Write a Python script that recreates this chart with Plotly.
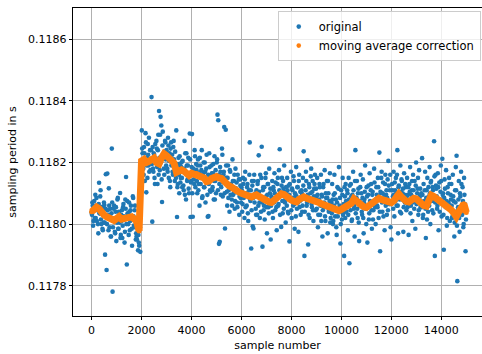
import plotly.graph_objects as go

# ---- data ----
# original samples, first set (sample numbers 0, 30, 60, ...)
sample_numbers_a = list(range(0, 15000, 30))
original_period_a = [
    0.118038, 0.118070, 0.117995, 0.118052, 0.118020, 0.118095, 0.118060, 0.118010, 0.118045, 0.117970, 0.118134, 0.118035, 0.118110, 0.118000, 0.118055, 0.117980, 0.118005, 0.118062, 0.117901, 0.118162,
    0.117851, 0.118164, 0.118030, 0.118116, 0.117990, 0.118050, 0.117960, 0.118245, 0.117781, 0.118015, 0.118060, 0.117975, 0.118040, 0.117945, 0.118005, 0.118085, 0.117985, 0.118030, 0.118101, 0.117965,
    0.118010, 0.117955, 0.118055, 0.118025, 0.117940, 0.118080, 0.118153, 0.117869, 0.118035, 0.118000, 0.118070, 0.117980, 0.118045, 0.118015, 0.117930, 0.118090, 0.118025, 0.117990, 0.118060, 0.117950,
    0.117960, 0.118020, 0.117915, 0.117940, 0.118010, 0.117910, 0.118160, 0.118304, 0.118230, 0.118180, 0.118250, 0.118140, 0.118295, 0.118103, 0.118215, 0.118260, 0.118190, 0.118170, 0.118240, 0.118205,
    0.118412, 0.118008, 0.118180, 0.118230, 0.118150, 0.118260, 0.118200, 0.118245, 0.118130, 0.118290, 0.118367, 0.118175, 0.118348, 0.118320, 0.118072, 0.118300, 0.118225, 0.118160, 0.118270, 0.118210,
    0.118240, 0.118180, 0.118280, 0.118150, 0.118230, 0.118120, 0.118265, 0.118200, 0.118170, 0.118250, 0.118210, 0.118140, 0.118185, 0.118304, 0.118023, 0.118130, 0.118215, 0.118100, 0.118190, 0.118150,
    0.118200, 0.118120, 0.118170, 0.118110, 0.118270, 0.118230, 0.118080, 0.118190, 0.118145, 0.118215, 0.118100, 0.118294, 0.118023, 0.118140, 0.118292, 0.118024, 0.118180, 0.118130, 0.118220, 0.118160,
    0.118175, 0.118100, 0.118210, 0.118130, 0.118060, 0.118190, 0.118150, 0.118240, 0.118090, 0.118165, 0.118120, 0.118200, 0.118070, 0.118180, 0.118140, 0.118024, 0.118026, 0.118230, 0.118110, 0.118155,
    0.118190, 0.118110, 0.118165, 0.118080, 0.118220, 0.118140, 0.118100, 0.118200, 0.118355, 0.118337, 0.117936, 0.117943, 0.118170, 0.118120, 0.118245, 0.118090, 0.118160, 0.118315, 0.117986, 0.118306,
    0.118150, 0.118060, 0.118190, 0.118110, 0.118040, 0.118170, 0.118130, 0.118080, 0.118210, 0.118095, 0.118140, 0.118050, 0.118180, 0.118115, 0.118070, 0.118160, 0.118100, 0.118030, 0.118145, 0.118085,
    0.118120, 0.118040, 0.118150, 0.118085, 0.118020, 0.118170, 0.118095, 0.118060, 0.118130, 0.118010, 0.118110, 0.118265, 0.118075, 0.117921, 0.118140, 0.117993, 0.117986, 0.118160, 0.118090, 0.118050,
    0.118110, 0.118030, 0.118140, 0.118223, 0.118070, 0.118160, 0.118040, 0.118251, 0.117927, 0.118120, 0.118060, 0.118015, 0.118150, 0.118090, 0.117970, 0.118130, 0.118055, 0.118180, 0.118100, 0.117950,
    0.118090, 0.118140, 0.118020, 0.118110, 0.118165, 0.118045, 0.118080, 0.117980, 0.118130, 0.118060, 0.118175, 0.118243, 0.118095, 0.117991, 0.118150, 0.118035, 0.118115, 0.118190, 0.118070, 0.118005,
    0.118100, 0.118150, 0.118040, 0.118125, 0.117944, 0.118080, 0.118170, 0.118020, 0.118110, 0.118060, 0.118140, 0.117985, 0.118095, 0.118185, 0.118050, 0.118120, 0.117975, 0.118160, 0.118075, 0.118030,
    0.118110, 0.118040, 0.118150, 0.118236, 0.117897, 0.118090, 0.118170, 0.118060, 0.118207, 0.117934, 0.118130, 0.118020, 0.118100, 0.118180, 0.118055, 0.118140, 0.118010, 0.118115, 0.118160, 0.118045,
    0.118090, 0.118150, 0.117990, 0.118070, 0.118130, 0.118030, 0.118160, 0.118095, 0.117960, 0.118120, 0.118055, 0.118175, 0.118010, 0.118085, 0.118140, 0.117970, 0.118100, 0.118045, 0.118165, 0.118020,
    0.118070, 0.118130, 0.118000, 0.118095, 0.118160, 0.118025, 0.118080, 0.117965, 0.118120, 0.118045, 0.118185, 0.118060, 0.117937, 0.118110, 0.118015, 0.118150, 0.118035, 0.117897, 0.118090, 0.118130,
    0.118040, 0.118110, 0.117980, 0.118150, 0.117873, 0.118075, 0.118130, 0.118010, 0.118095, 0.118170, 0.118050, 0.117960, 0.118240, 0.118085, 0.118140, 0.118020, 0.118115, 0.117945, 0.118070, 0.118160,
    0.118100, 0.118030, 0.118145, 0.117970, 0.118080, 0.118190, 0.118055, 0.118120, 0.117940, 0.118095, 0.118015, 0.118165, 0.118070, 0.118130, 0.117985, 0.118105, 0.118045, 0.118180, 0.118060, 0.118000,
    0.118120, 0.118060, 0.118150, 0.118020, 0.118232, 0.117912, 0.118100, 0.118170, 0.118040, 0.118135, 0.118075, 0.117980, 0.118160, 0.118095, 0.118030, 0.118145, 0.118205, 0.118065, 0.118110, 0.117990,
    0.117950, 0.118130, 0.118090, 0.118170, 0.118025, 0.118110, 0.118150, 0.118060, 0.118240, 0.117970, 0.118125, 0.118080, 0.118190, 0.118035, 0.118140, 0.118100, 0.117975, 0.118165, 0.118070, 0.118120,
    0.118045, 0.118150, 0.118095, 0.117965, 0.118130, 0.118185, 0.118060, 0.118110, 0.118010, 0.118160, 0.118085, 0.118140, 0.117985, 0.118200, 0.118070, 0.118115, 0.118030, 0.118175, 0.118090, 0.118055,
    0.118100, 0.118214, 0.118020, 0.118130, 0.118065, 0.118170, 0.117955, 0.118110, 0.118150, 0.118040, 0.118090, 0.118185, 0.118000, 0.118140, 0.118075, 0.118120, 0.118035, 0.118269, 0.117897, 0.118160,
    0.118115, 0.118050, 0.118165, 0.117980, 0.118135, 0.118080, 0.118190, 0.118025, 0.118212, 0.118100, 0.117917, 0.118145, 0.118060, 0.118175, 0.117995, 0.118120, 0.118070, 0.118150, 0.118010, 0.118095,
    0.118130, 0.118020, 0.118160, 0.118075, 0.117960, 0.118110, 0.118185, 0.118222, 0.117815, 0.118055, 0.118140, 0.117975, 0.118090, 0.118170, 0.118035, 0.118120, 0.117990, 0.118150, 0.118065, 0.117912,
]

# original samples, second set (sample numbers 15, 45, 75, ...)
sample_numbers_b = list(range(15, 15000, 30))
original_period_b = [
    0.118030, 0.118060, 0.118010, 0.118075, 0.118045, 0.118020, 0.118085, 0.118050, 0.118000, 0.118065, 0.118035, 0.118090, 0.118015, 0.118055, 0.117985, 0.118040, 0.118070, 0.118005, 0.118050, 0.118025,
    0.118000, 0.118045, 0.117980, 0.118060, 0.118025, 0.117960, 0.118035, 0.118070, 0.117990, 0.118050, 0.118010, 0.117970, 0.118055, 0.118020, 0.118080, 0.117985, 0.118040, 0.118005, 0.117955, 0.118030,
    0.118045, 0.117995, 0.118065, 0.118015, 0.117975, 0.118050, 0.118000, 0.118075, 0.118030, 0.117965, 0.118040, 0.118010, 0.118060, 0.117985, 0.118025, 0.118085, 0.117995, 0.118045, 0.118015, 0.117970,
    0.117950, 0.118005, 0.117965, 0.117930, 0.117990, 0.118090, 0.118180, 0.118245, 0.118200, 0.118160, 0.118230, 0.118215, 0.118265, 0.118190, 0.118150, 0.118225, 0.118280, 0.118205, 0.118175, 0.118240,
    0.118195, 0.118250, 0.118170, 0.118225, 0.118130, 0.118205, 0.118270, 0.118185, 0.118240, 0.118160, 0.118215, 0.118290, 0.118200, 0.118145, 0.118255, 0.118220, 0.118180, 0.118235, 0.118265, 0.118190,
    0.118230, 0.118170, 0.118255, 0.118205, 0.118140, 0.118245, 0.118190, 0.118225, 0.118160, 0.118270, 0.118200, 0.118235, 0.118150, 0.118175, 0.118120, 0.118195, 0.118160, 0.118220, 0.118135, 0.118185,
    0.118150, 0.118205, 0.118125, 0.118180, 0.118095, 0.118170, 0.118230, 0.118140, 0.118190, 0.118115, 0.118160, 0.118210, 0.118135, 0.118185, 0.118100, 0.118175, 0.118145, 0.118240, 0.118120, 0.118195,
    0.118140, 0.118190, 0.118110, 0.118165, 0.118215, 0.118130, 0.118175, 0.118085, 0.118155, 0.118200, 0.118120, 0.118170, 0.118145, 0.118225, 0.118095, 0.118160, 0.118130, 0.118185, 0.118105, 0.118150,
    0.118165, 0.118120, 0.118195, 0.118140, 0.118080, 0.118175, 0.118150, 0.118210, 0.118110, 0.118160, 0.118130, 0.118185, 0.118095, 0.118155, 0.118225, 0.118135, 0.118170, 0.118100, 0.118145, 0.118190,
    0.118105, 0.118150, 0.118085, 0.118130, 0.118175, 0.118095, 0.118120, 0.118060, 0.118140, 0.118100, 0.118160, 0.118075, 0.118115, 0.118135, 0.118055, 0.118105, 0.118145, 0.118090, 0.118125, 0.118070,
    0.118110, 0.118065, 0.118130, 0.118090, 0.118145, 0.118055, 0.118100, 0.118120, 0.118035, 0.118095, 0.118160, 0.118080, 0.118110, 0.118045, 0.118125, 0.118085, 0.118140, 0.118070, 0.118100, 0.118030,
    0.118095, 0.118130, 0.118060, 0.118105, 0.118020, 0.118085, 0.118150, 0.118070, 0.118110, 0.118045, 0.118120, 0.118080, 0.118165, 0.118055, 0.118095, 0.118130, 0.118035, 0.118075, 0.118115, 0.118060,
    0.118085, 0.118040, 0.118120, 0.118070, 0.118100, 0.118135, 0.118055, 0.118090, 0.118150, 0.118065, 0.118110, 0.118030, 0.118095, 0.118125, 0.118075, 0.118140, 0.118050, 0.118105, 0.118080, 0.118120,
    0.118060, 0.118110, 0.118035, 0.118095, 0.118130, 0.118075, 0.118045, 0.118115, 0.118085, 0.118155, 0.118065, 0.118100, 0.118025, 0.118090, 0.118120, 0.118070, 0.118140, 0.118055, 0.118105, 0.118080,
    0.118100, 0.118060, 0.118125, 0.118085, 0.118040, 0.118110, 0.118140, 0.118070, 0.118095, 0.118030, 0.118120, 0.118080, 0.118155, 0.118065, 0.118105, 0.118045, 0.118090, 0.118130, 0.118075, 0.118115,
    0.118050, 0.118095, 0.118030, 0.118080, 0.118120, 0.118060, 0.118010, 0.118090, 0.118045, 0.118130, 0.118070, 0.118025, 0.118100, 0.118055, 0.118085, 0.118140, 0.118040, 0.118075, 0.118005, 0.118065,
    0.118035, 0.118080, 0.118010, 0.118060, 0.118100, 0.118045, 0.117990, 0.118070, 0.118025, 0.118115, 0.118050, 0.118085, 0.118000, 0.118040, 0.118095, 0.118030, 0.118065, 0.118120, 0.118020, 0.118075,
    0.118055, 0.118100, 0.118030, 0.118080, 0.118125, 0.118045, 0.118090, 0.118015, 0.118070, 0.118110, 0.118060, 0.118140, 0.118035, 0.118085, 0.118050, 0.118100, 0.118005, 0.118075, 0.118120, 0.118065,
    0.118040, 0.118085, 0.118020, 0.118070, 0.118105, 0.118050, 0.118000, 0.118090, 0.118060, 0.118125, 0.118035, 0.118075, 0.118110, 0.118045, 0.118095, 0.118015, 0.118065, 0.118135, 0.118055, 0.118080,
    0.118095, 0.118055, 0.118120, 0.118080, 0.118040, 0.118105, 0.118150, 0.118070, 0.118100, 0.118025, 0.118090, 0.118130, 0.118060, 0.118110, 0.118085, 0.118045, 0.118125, 0.118075, 0.118160, 0.118065,
    0.118070, 0.118110, 0.118050, 0.118095, 0.118135, 0.118075, 0.118100, 0.118160, 0.118060, 0.118120, 0.118085, 0.118040, 0.118105, 0.118145, 0.118080, 0.118115, 0.118055, 0.118095, 0.118130, 0.118070,
    0.118090, 0.118055, 0.118120, 0.118075, 0.118105, 0.118035, 0.118095, 0.118140, 0.118070, 0.118110, 0.118050, 0.118085, 0.118125, 0.118065, 0.118100, 0.118150, 0.118045, 0.118080, 0.118115, 0.118060,
    0.118055, 0.118095, 0.118030, 0.118075, 0.118110, 0.118050, 0.118085, 0.118015, 0.118070, 0.118120, 0.118060, 0.118100, 0.118135, 0.118080, 0.118045, 0.118110, 0.118090, 0.118155, 0.118070, 0.118125,
    0.118090, 0.118060, 0.118120, 0.118080, 0.118040, 0.118105, 0.118140, 0.118070, 0.118095, 0.118030, 0.118085, 0.118115, 0.118055, 0.118075, 0.118020, 0.118100, 0.118065, 0.118130, 0.118045, 0.118080,
    0.118060, 0.118025, 0.118090, 0.118040, 0.118005, 0.118070, 0.118110, 0.117995, 0.118045, 0.118080, 0.118020, 0.118100, 0.118055, 0.118130, 0.118030, 0.118075, 0.118000, 0.118095, 0.118050, 0.118015,
]

# moving average correction (read every 100 samples)
ma_sample_numbers = list(range(0, 15001, 100))
ma_period = [
    0.118040, 0.118048, 0.118055, 0.118050, 0.118036, 0.118030, 0.118024, 0.118020, 0.118014, 0.118012,
    0.118018, 0.118024, 0.118016, 0.118020, 0.118018, 0.118022, 0.118024, 0.118020, 0.118010, 0.117978,
    0.118205, 0.118210, 0.118200, 0.118204, 0.118212, 0.118214, 0.118200, 0.118196, 0.118215, 0.118228,
    0.118222, 0.118214, 0.118205, 0.118198, 0.118168, 0.118170, 0.118176, 0.118172, 0.118162, 0.118158,
    0.118165, 0.118162, 0.118164, 0.118160, 0.118156, 0.118150, 0.118138, 0.118140, 0.118148, 0.118152,
    0.118154, 0.118150, 0.118148, 0.118140, 0.118130, 0.118124, 0.118120, 0.118112, 0.118106, 0.118104,
    0.118100, 0.118098, 0.118096, 0.118090, 0.118088, 0.118092, 0.118095, 0.118090, 0.118084, 0.118078,
    0.118076, 0.118072, 0.118070, 0.118076, 0.118086, 0.118092, 0.118098, 0.118096, 0.118088, 0.118080,
    0.118078, 0.118074, 0.118072, 0.118080, 0.118086, 0.118088, 0.118084, 0.118082, 0.118080, 0.118076,
    0.118072, 0.118070, 0.118066, 0.118062, 0.118060, 0.118056, 0.118054, 0.118050, 0.118046, 0.118044,
    0.118048, 0.118054, 0.118060, 0.118062, 0.118068, 0.118082, 0.118076, 0.118064, 0.118058, 0.118056,
    0.118054, 0.118060, 0.118068, 0.118072, 0.118080, 0.118084, 0.118080, 0.118076, 0.118078, 0.118074,
    0.118070, 0.118076, 0.118092, 0.118098, 0.118088, 0.118080, 0.118074, 0.118072, 0.118078, 0.118084,
    0.118082, 0.118072, 0.118066, 0.118060, 0.118058, 0.118076, 0.118094, 0.118090, 0.118084, 0.118080,
    0.118072, 0.118066, 0.118058, 0.118052, 0.118046, 0.118036, 0.118024, 0.118040, 0.118056, 0.118066,
    0.118038,
]

x_ticks = [0, 2000, 4000, 6000, 8000, 10000, 12000, 14000]
y_ticks = [0.1178, 0.1180, 0.1182, 0.1184, 0.1186]

BLUE = "#1f77b4"
ORANGE = "#ff7f0e"
FONT = "DejaVu Sans"

fig = go.Figure()
fig.add_trace(go.Scatter(
    x=sample_numbers_a + sample_numbers_b,
    y=original_period_a + original_period_b,
    mode="markers", name="original",
    marker=dict(color=BLUE, size=4.6, line=dict(width=0)),
))
fig.add_trace(go.Scatter(
    x=ma_sample_numbers, y=ma_period, mode="lines+markers", showlegend=False,
    name="moving average correction",
    line=dict(color=ORANGE, width=7),
    marker=dict(color=ORANGE, size=5, line=dict(width=0)),
))
# legend entry (dot only, as in the reference)
fig.add_trace(go.Scatter(
    x=[None], y=[None], mode="markers", name="moving average correction",
    marker=dict(color=ORANGE, size=4.6),
))

fig.update_layout(
    width=482, height=354,
    margin=dict(l=73, r=0, t=8, b=38, autoexpand=False),
    paper_bgcolor="white", plot_bgcolor="white",
    font=dict(family=FONT, size=11, color="black"),
    showlegend=True,
    legend=dict(
        x=0.997, xanchor="right", y=0.99, yanchor="top",
        bgcolor="rgba(255,255,255,0.8)", bordercolor="#cccccc", borderwidth=1,
        font=dict(family=FONT, size=11.5, color="black"),
        tracegroupgap=0,
    ),
)
fig.update_xaxes(
    range=[-744, 15628], tickvals=x_ticks, ticktext=[str(v) for v in x_ticks],
    showgrid=True, gridcolor="#b0b0b0", gridwidth=0.8, zeroline=False,
    showline=True, linecolor="black", linewidth=0.8, mirror=True,
    ticks="outside", ticklen=3.5, tickwidth=0.8, tickcolor="black",
    title=dict(text="sample number", font=dict(family=FONT, size=11), standoff=5),
    automargin=False,
)
fig.update_yaxes(
    range=[0.117702, 0.118701], tickvals=y_ticks, ticktext=[f"{v:.4f}" for v in y_ticks],
    showgrid=True, gridcolor="#b0b0b0", gridwidth=0.8, zeroline=False,
    showline=True, linecolor="black", linewidth=0.8, mirror=False,
    ticks="outside", ticklen=3.5, tickwidth=0.8, tickcolor="black",
    title=dict(text="sampling period in s", font=dict(family=FONT, size=11), standoff=9),
    automargin=False,
)

fig.write_html("out.html")
